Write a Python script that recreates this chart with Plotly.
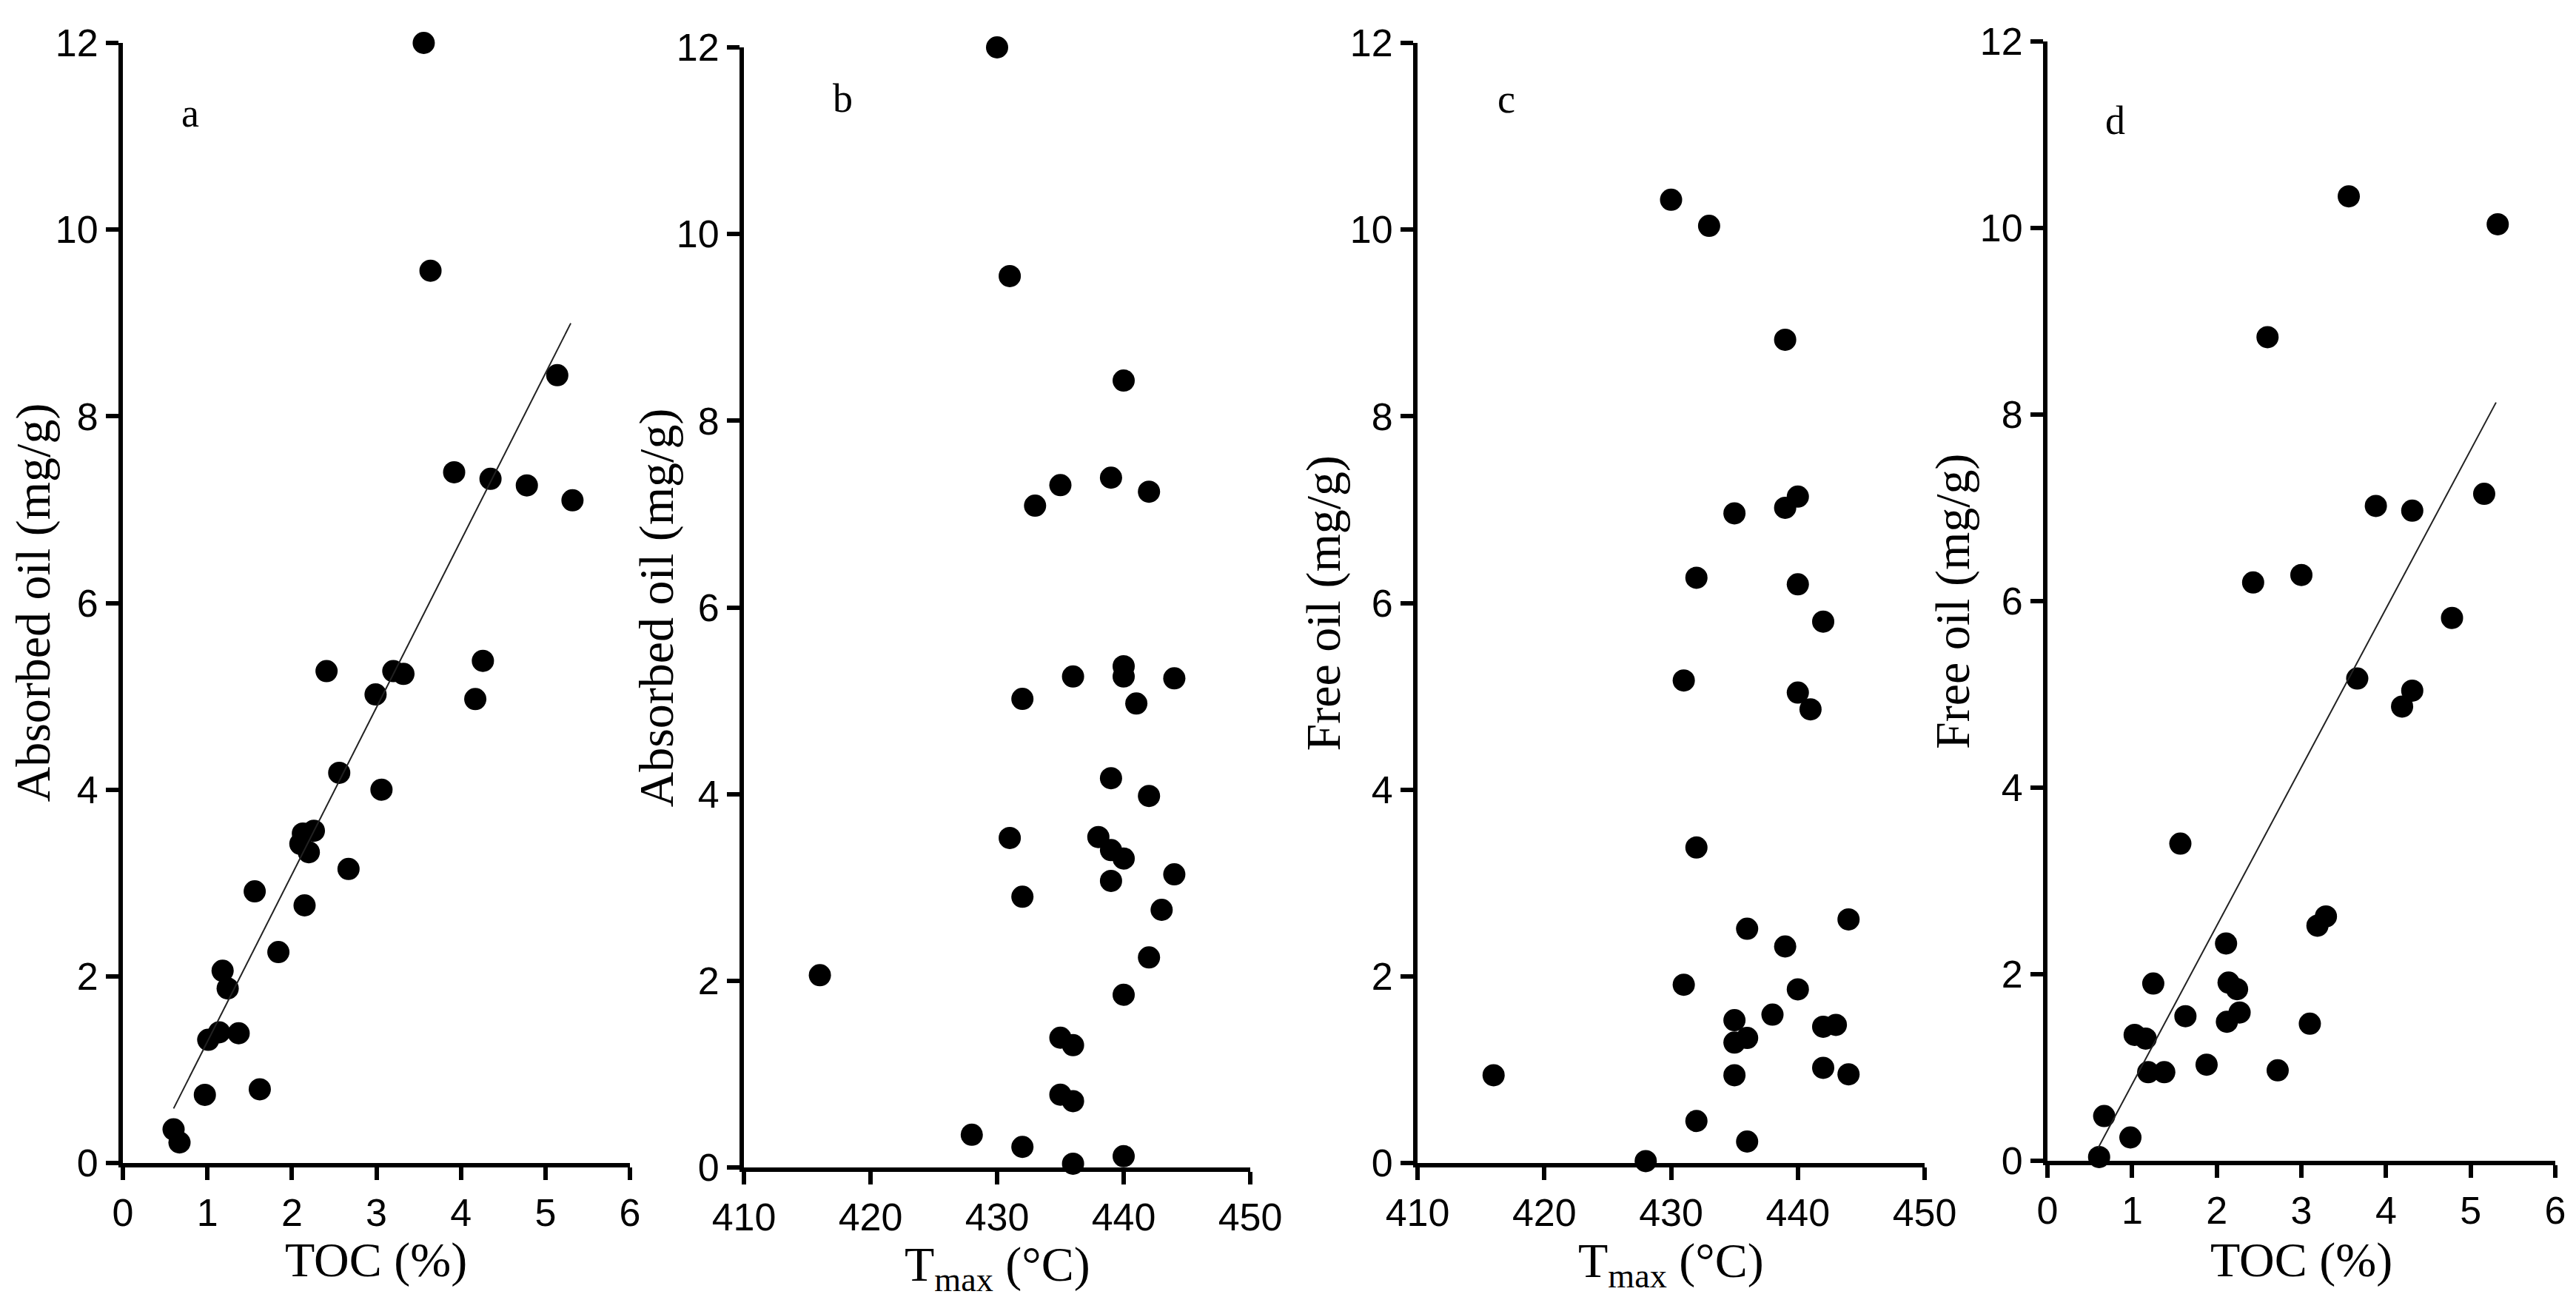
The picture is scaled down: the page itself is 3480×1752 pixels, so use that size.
"""
plot.py — Absorbed oil / free oil vs TOC and Tmax (four scatter panels)
"""
import numpy as np
import plotly.graph_objects as go

# a: TOC vs absorbed oil
TOC_A = [3.56, 3.64, 5.14, 3.92, 4.35, 4.78, 5.32, 2.41, 3.20, 3.32, 4.26, 2.99,
         4.17, 2.56, 3.06, 2.13, 2.26, 2.10, 2.20, 2.67, 1.56, 2.15, 1.84, 1.18,
         1.24, 1.01, 1.14, 1.37, 0.97, 1.62, 0.60, 0.67]
ABS_A = [12.0, 9.56, 8.44, 7.40, 7.33, 7.26, 7.10, 5.27, 5.27, 5.24, 5.38, 5.02,
         4.97, 4.18, 4.00, 3.53, 3.56, 3.42, 3.33, 3.15, 2.91, 2.76, 2.26, 2.06,
         1.87, 1.32, 1.40, 1.39, 0.73, 0.79, 0.36, 0.22]

# b: Tmax vs absorbed oil
TMAX_B = [430, 431, 440, 435, 439, 442, 433, 436, 440, 440, 444, 432, 441, 439,
          442, 431, 438, 439, 440, 439, 444, 432, 443, 442, 416, 440, 435, 436,
          435, 436, 428, 432, 440, 436]
ABS_B = [12.0, 9.55, 8.43, 7.31, 7.39, 7.24, 7.09, 5.26, 5.37, 5.26, 5.24, 5.02,
         4.97, 4.17, 3.98, 3.53, 3.54, 3.40, 3.31, 3.07, 3.14, 2.90, 2.76, 2.25,
         2.06, 1.85, 1.39, 1.31, 0.78, 0.71, 0.35, 0.22, 0.12, 0.04]

# c: Tmax vs free oil
TMAX_C = [430, 433, 439, 435, 439, 440, 432, 440, 442, 431, 440, 441, 432, 436,
          444, 439, 431, 440, 438, 435, 435, 436, 442, 443, 442, 444, 435, 416,
          432, 436, 428]
FREE_C = [10.32, 10.04, 8.82, 6.96, 7.02, 7.14, 6.27, 6.20, 5.80, 5.17, 5.04,
          4.86, 3.38, 2.51, 2.61, 2.32, 1.91, 1.86, 1.59, 1.53, 1.29, 1.34, 1.46,
          1.48, 1.02, 0.95, 0.94, 0.94, 0.45, 0.23, 0.02]

# d: TOC vs free oil
TOC_D = [3.56, 5.32, 2.60, 5.16, 3.88, 4.31, 3.00, 2.43, 4.78, 3.66, 4.31, 4.19,
         1.57, 3.29, 3.19, 2.11, 1.25, 2.14, 2.24, 1.63, 2.27, 2.12, 3.10, 1.03,
         1.16, 1.19, 1.38, 1.88, 2.72, 0.67, 0.98, 0.61]
FREE_D = [10.34, 10.04, 8.83, 7.15, 7.02, 6.97, 6.28, 6.20, 5.82, 5.17, 5.04,
          4.87, 3.40, 2.62, 2.52, 2.33, 1.90, 1.91, 1.84, 1.55, 1.59, 1.49, 1.47,
          1.35, 1.31, 0.95, 0.95, 1.03, 0.97, 0.48, 0.25, 0.04]

# fitted lines (slope, intercept) and x extent
FIT_A_COEF = (1.79, -0.49)
FIT_A_X = [0.6, 5.3]
FIT_D_COEF = (1.70, -0.88)
FIT_D_X = [0.6, 5.3]

TOC_TICKS = [0, 1, 2, 3, 4, 5, 6]
TMAX_TICKS = [410, 420, 430, 440, 450]
OIL_TICKS = [0, 2, 4, 6, 8, 10, 12]

W, H = 3480, 1752
TMAX_TITLE = "T<sub>max</sub> (°C)"


def px_x(v):
    return v / W


def px_y(v):
    return (H - v) / H


panels = [
    dict(x=TOC_A, y=ABS_A, fit=(FIT_A_COEF, FIT_A_X), xdom=(158, 843), ydom=(1563, 50),
         xr=[0, 6], xt=TOC_TICKS, xtitle="TOC (%)", ytitle="Absorbed oil (mg/g)",
         label="a", lab=(0.8, 11.25), ytx=122, xty=1694),
    dict(x=TMAX_B, y=ABS_B, fit=None, xdom=(997, 1681), ydom=(1569, 56),
         xr=[410, 450], xt=TMAX_TICKS, xtitle=TMAX_TITLE, ytitle="Absorbed oil (mg/g)",
         label="b", lab=(417.8, 11.45), ytx=118, xty=1704),
    dict(x=TMAX_C, y=FREE_C, fit=None, xdom=(1907, 2592), ydom=(1563, 50),
         xr=[410, 450], xt=TMAX_TICKS, xtitle=TMAX_TITLE, ytitle="Free oil (mg/g)",
         label="c", lab=(417.0, 11.4), ytx=128, xty=1699),
    dict(x=TOC_D, y=FREE_D, fit=(FIT_D_COEF, FIT_D_X), xdom=(2758, 3444), ydom=(1560, 48),
         xr=[0, 6], xt=TOC_TICKS, xtitle="TOC (%)", ytitle="Free oil (mg/g)",
         label="d", lab=(0.8, 11.15), ytx=128, xty=1694),
]

axis_common = dict(
    showline=True, linecolor="black", linewidth=6, ticks="outside", ticklen=17,
    tickwidth=6, tickcolor="black", showgrid=False, zeroline=False,
    automargin=False, tickfont=dict(family="Liberation Sans", size=52, color="black"),
)

fig = go.Figure()
annotations = []
layout = dict(
    width=W, height=H, paper_bgcolor="white", plot_bgcolor="white",
    margin=dict(l=0, r=0, t=0, b=0, autoexpand=False), showlegend=False,
)

for i, p in enumerate(panels, start=1):
    xa = "x" if i == 1 else f"x{i}"
    ya = "y" if i == 1 else f"y{i}"
    fig.add_trace(go.Scatter(
        x=p["x"], y=p["y"], mode="markers", xaxis=xa, yaxis=ya, cliponaxis=False,
        marker=dict(symbol="circle", size=30, color="black", line=dict(width=0)),
    ))
    if p["fit"] is not None:
        (slope, intercept), fx = p["fit"]
        fx = np.array(fx)
        fig.add_trace(go.Scatter(
            x=fx, y=slope * fx + intercept, mode="lines", xaxis=xa, yaxis=ya,
            line=dict(color="#222222", width=2),
        ))

    layout[f"xaxis{'' if i == 1 else i}"] = dict(
        axis_common, domain=[px_x(p["xdom"][0]), px_x(p["xdom"][1])], range=p["xr"],
        tickvals=p["xt"], anchor=ya,
    )
    layout[f"yaxis{'' if i == 1 else i}"] = dict(
        axis_common, domain=[px_y(p["ydom"][0]), px_y(p["ydom"][1])], range=[0, 12],
        tickvals=OIL_TICKS, anchor=xa,
    )

    xmid = (p["xdom"][0] + p["xdom"][1]) / 2
    ymid = (p["ydom"][0] + p["ydom"][1]) / 2
    annotations.append(dict(
        text=p["xtitle"], xref="paper", yref="paper", x=px_x(xmid), y=px_y(p["xty"]),
        xanchor="center", yanchor="middle", showarrow=False,
        font=dict(family="Liberation Serif", size=66, color="black"),
    ))
    annotations.append(dict(
        text=p["ytitle"], xref="paper", yref="paper", x=px_x(p["xdom"][0] - p["ytx"]),
        y=px_y(ymid), xanchor="center", yanchor="middle", textangle=-90, showarrow=False,
        font=dict(family="Liberation Serif", size=66, color="black"),
    ))
    annotations.append(dict(
        text=p["label"], xref=xa, yref=ya, x=p["lab"][0], y=p["lab"][1],
        xanchor="center", yanchor="middle", showarrow=False,
        font=dict(family="Liberation Serif", size=54, color="black"),
    ))

layout["annotations"] = annotations
fig.update_layout(**layout)
fig.write_html("out.html")
